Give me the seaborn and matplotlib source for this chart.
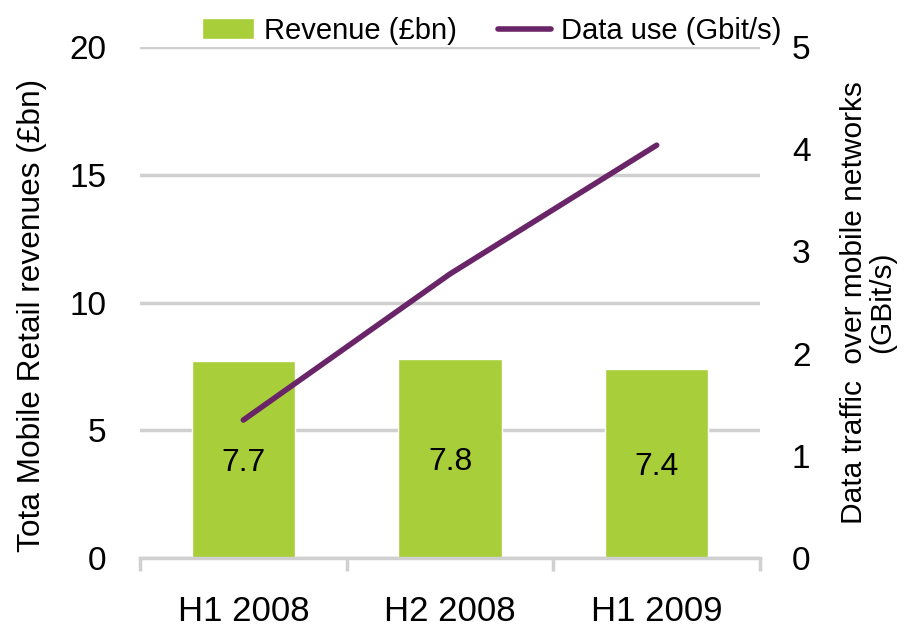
import numpy as np
import pandas as pd
import matplotlib
matplotlib.use("Agg")
import matplotlib.pyplot as plt
import seaborn as sns

periods = ["H1 2008", "H2 2008", "H1 2009"]
revenue = [7.7, 7.8, 7.4]          # £bn, left axis
data_use = [1.35, 2.78, 4.04]      # Gbit/s, right axis

sns.set_style("white")
plt.rcParams['font.family'] = ['Liberation Sans', 'DejaVu Sans']
plt.rcParams['text.color'] = 'black'
plt.rcParams['axes.labelcolor'] = 'black'
plt.rcParams['xtick.color'] = 'black'
plt.rcParams['ytick.color'] = 'black'

green = "#A8CE3A"
purple = "#6A2569"
grid_c = "#D0D0D0"

df = pd.DataFrame({"period": periods, "revenue": revenue, "data_use": data_use})

fig = plt.figure(figsize=(9.05, 6.28), dpi=100)
ax = fig.add_axes([0.1547, 0.1115, 0.6851, 0.8135])

sns.barplot(data=df, x="period", y="revenue", color=green, width=0.5,
            saturation=1, ax=ax, zorder=2, label="Revenue (£bn)")
ax.set_ylim(0, 20)
ax.set_yticks([0, 5, 10, 15, 20])
ax.yaxis.grid(True, color=grid_c, lw=2.5, zorder=0)
ax.set_axisbelow(True)
ax.set_xlim(-0.5, 2.5)
for s in ["top", "left", "right"]:
    ax.spines[s].set_visible(False)
ax.spines["bottom"].set_color(grid_c)
ax.spines["bottom"].set_linewidth(2.5)
ax.tick_params(axis="y", length=0, labelsize=24, pad=24)
ax.tick_params(axis="x", which="major", length=0, labelsize=25, pad=27)
ax.set_xticks([-0.5, 0.5, 1.5, 2.5], minor=True)
ax.tick_params(axis="x", which="minor", bottom=True, length=9, width=2.5,
               color=grid_c, direction="out")
ax.set_xlabel("")
ax.set_ylabel("Tota Mobile Retail revenues (£bn)", fontsize=22.8)
ax.yaxis.set_label_coords(-0.150, 0.474)

for i, v in enumerate(revenue):
    ax.text(i, v / 2 - 0.15, f"{v}", ha="center", va="center", fontsize=23, zorder=3)

ax2 = ax.twinx()
sns.lineplot(x=np.arange(len(periods)), y=data_use, color=purple, linewidth=4,
             ax=ax2, label="Data use (Gbit/s)", solid_capstyle="round")
ax2.set_ylim(0, 5)
ax2.set_yticks([0, 1, 2, 3, 4, 5])
for s in ["top", "left", "right", "bottom"]:
    ax2.spines[s].set_visible(False)
ax2.tick_params(axis="y", length=0, labelsize=24, pad=23)
ax2.set_ylabel("Data traffic  over mobile networks\n(GBit/s)", fontsize=21.5,
               labelpad=21, linespacing=1.0)
ax2.set_xlim(-0.5, 2.5)

h1, l1 = ax.get_legend_handles_labels()
h2, l2 = ax2.get_legend_handles_labels()
for a in (ax, ax2):
    if a.get_legend():
        a.get_legend().remove()
fig.legend(h1 + h2, l1 + l2, loc="upper center", bbox_to_anchor=(0.543, 1.015),
           ncol=2, frameon=False, fontsize=21, handlelength=1.8,
           columnspacing=1.4, handletextpad=0.35)

fig.savefig("out.png", dpi=100)
